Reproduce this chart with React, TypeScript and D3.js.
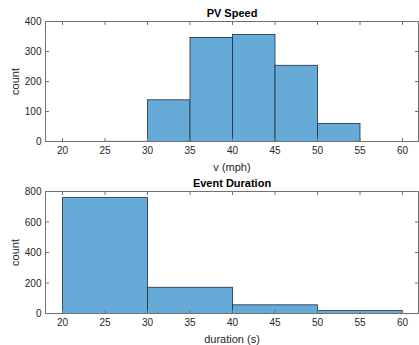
import React from "react";
import * as d3 from "d3";

const speedEdges = [25, 30, 35, 40, 45, 50, 55];
const speedCounts = [1, 139, 347, 357, 254, 60];
const speedTicksX = [20, 25, 30, 35, 40, 45, 50, 55, 60];
const speedTicksY = [0, 100, 200, 300, 400];

const durEdges = [20, 30, 40, 50, 60];
const durCounts = [760, 172, 57, 19];
const durTicksX = [20, 25, 30, 35, 40, 45, 50, 55, 60];
const durTicksY = [0, 200, 400, 600, 800];

const W = 419;
const H = 345;
const FONT = "'Liberation Sans', Arial, Helvetica, sans-serif";
const TXT = "#262626";
const AX = "#707070";
const FILL = "#66aad7";
const EDGE = "#1e2f3d";

type PanelProps = {
  edges: number[];
  counts: number[];
  ticksX: number[];
  ticksY: number[];
  yMax: number;
  top: number;
  bottom: number;
  title: string;
  xlabel: string;
};

function Panel({ edges, counts, ticksX, ticksY, yMax, top, bottom, title, xlabel }: PanelProps) {
  const left = 45.5;
  const right = 418.5;
  const x = d3.scaleLinear().domain([18, 62]).range([left, left + 44 * 8.5]);
  const y = d3.scaleLinear().domain([0, yMax]).range([bottom, top]);
  const tl = 3.5;
  const bars = counts.map((c, i) => ({ x0: edges[i], x1: edges[i + 1], c }));
  return (
    <g>
      {bars.map((b, i) => (
        <rect
          key={i}
          x={x(b.x0)}
          y={y(b.c)}
          width={x(b.x1) - x(b.x0)}
          height={Math.max(0, bottom - y(b.c))}
          fill={FILL}
          stroke={b.c < 5 ? FILL : EDGE}
          strokeWidth={0.8}
        />
      ))}
      {/* box */}
      <line x1={left} x2={right} y1={top} y2={top} stroke={AX} strokeWidth={1} />
      <line x1={left} x2={right} y1={bottom} y2={bottom} stroke={AX} strokeWidth={1} />
      <line x1={left} x2={left} y1={top} y2={bottom} stroke={AX} strokeWidth={1} />
      <line x1={right} x2={right} y1={top} y2={bottom} stroke={AX} strokeWidth={1} />
      {ticksX.map((t) => (
        <g key={"x" + t}>
          <line x1={x(t)} x2={x(t)} y1={bottom} y2={bottom - tl} stroke={AX} />
          <line x1={x(t)} x2={x(t)} y1={top} y2={top + tl} stroke={AX} />
          <text
            x={x(t)}
            y={bottom + 12}
            textAnchor="middle"
            fontSize={10}
            fontFamily={FONT}
            fill={TXT}
          >
            {t}
          </text>
        </g>
      ))}
      {ticksY.map((t) => (
        <g key={"y" + t}>
          <line x1={left} x2={left + tl} y1={y(t)} y2={y(t)} stroke={AX} />
          <line x1={right} x2={right - tl} y1={y(t)} y2={y(t)} stroke={AX} />
          <text
            x={left - 4}
            y={y(t) + 3.5}
            textAnchor="end"
            fontSize={10}
            fontFamily={FONT}
            fill={TXT}
          >
            {t}
          </text>
        </g>
      ))}
      <text
        x={(left + right) / 2}
        y={top - 5}
        textAnchor="middle"
        fontSize={11}
        fontWeight="bold"
        fontFamily={FONT}
        fill="#000"
      >
        {title}
      </text>
      <text
        x={(left + right) / 2}
        y={bottom + 29}
        textAnchor="middle"
        fontSize={11}
        fontFamily={FONT}
        fill={TXT}
      >
        {xlabel}
      </text>
      <text
        transform={`translate(19,${(top + bottom) / 2}) rotate(-90)`}
        textAnchor="middle"
        fontSize={11}
        fontFamily={FONT}
        fill={TXT}
      >
        count
      </text>
    </g>
  );
}

export default function App() {
  return (
    <svg
      width={W}
      height={H}
      style={{ position: "absolute", left: 0, top: 0, background: "#fff" }}
    >
      <rect x={0} y={0} width={W} height={H} fill="#fff" />
      <Panel
        edges={speedEdges}
        counts={speedCounts}
        ticksX={speedTicksX}
        ticksY={speedTicksY}
        yMax={400}
        top={21.5}
        bottom={141.5}
        title="PV Speed"
        xlabel="v (mph)"
      />
      <Panel
        edges={durEdges}
        counts={durCounts}
        ticksX={durTicksX}
        ticksY={durTicksY}
        yMax={800}
        top={191.5}
        bottom={313.5}
        title="Event Duration"
        xlabel="duration (s)"
      />
    </svg>
  );
}
